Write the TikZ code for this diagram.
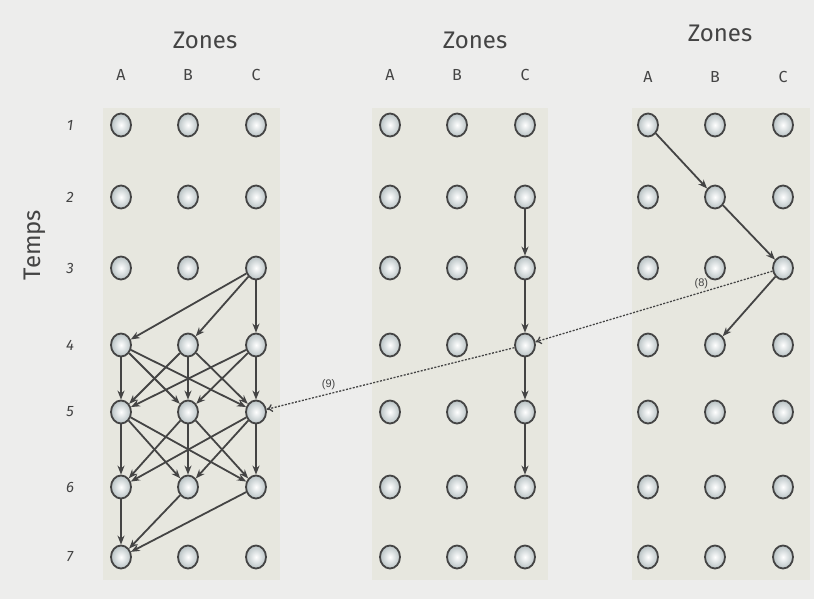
\documentclass[tikz,border=0pt]{standalone}
\usepackage{fontspec}
\setmainfont{Fira Sans}
\newfontfamily\labelfont{Liberation Sans}
\usetikzlibrary{arrows.meta}
\usetikzlibrary{shapes.geometric}
\definecolor{paper}{HTML}{EDEDEC}
\definecolor{band}{HTML}{E7E7DF}
\definecolor{ink}{HTML}{444444}
\definecolor{rim}{HTML}{B8C2C4}

\begin{document}
\begin{tikzpicture}[
    x=1pt, y=-1pt,
    slot/.style={ellipse, draw=ink, line width=1.8pt, minimum width=20pt, minimum height=23pt,
                 inner sep=0pt, inner color=white, outer color=rim},
    flow/.style={-{Stealth[length=9pt, width=7pt]}, line width=1.8pt, ink},
    jump/.style={-{To[length=6pt, width=8pt]}, line width=1.3pt, ink, dash pattern=on 2pt off 1.5pt},
    zonetitle/.style={font=\fontsize{24}{26}\selectfont, text=ink},
    collabel/.style={font=\fontsize{16}{18}\selectfont, text=ink},
    rowlabel/.style={font=\fontsize{15}{17}\selectfont\itshape, text=ink},
    steplabel/.style={font=\labelfont\fontsize{11}{13}\selectfont, text=ink}
]

% page and shaded bands
\fill[paper] (0,0) rectangle (814,599);
\fill[band] (103,108) rectangle (280,580);
\fill[band] (372,108) rectangle (548,580);
\fill[band] (632,108) rectangle (810,580);

% titles
\node[zonetitle] (zones1) at (205,40) {Zones};
\node[zonetitle] (zones2) at (475,40) {Zones};
\node[zonetitle] (zones3) at (720,33) {Zones};
\node[zonetitle, rotate=90] (temps) at (35,245) {Temps};

% column and row labels
\foreach \p/\x/\ly in {1/121/75, 2/390/75, 3/648/77}
  \foreach \c/\dx in {A/0, B/67, C/135}
    \node[collabel] (lab\p\c) at (\x+\dx,\ly) {\c};
\foreach \t/\y in {1/125, 2/197, 3/268, 4/345, 5/412, 6/487, 7/557}
  \node[rowlabel] (row\t) at (70,\y) {\t};

% slots
\foreach \p/\x in {1/121, 2/390, 3/648}
  \foreach \c/\dx in {A/0, B/67, C/135}
    \foreach \t/\y in {1/125, 2/197, 3/268, 4/345, 5/412, 6/487, 7/557}
      \node[slot] (p\p\c\t) at (\x+\dx,\y) {};

% first panel: all moves
\foreach \d in {A,B,C}
  \draw[flow] (p1C3) -- (p1\d4);
\foreach \s in {A,B,C}
  \foreach \d in {A,B,C} {
    \draw[flow] (p1\s4) -- (p1\d5);
    \draw[flow] (p1\s5) -- (p1\d6);
  }
\foreach \s in {A,B,C}
  \draw[flow] (p1\s6) -- (p1A7);

% second panel: stay in C
\draw[flow] (p2C2) -- (p2C3);
\draw[flow] (p2C3) -- (p2C4);
\draw[flow] (p2C4) -- (p2C5);
\draw[flow] (p2C5) -- (p2C6);

% third panel
\draw[flow] (p3A1) -- (p3B2);
\draw[flow] (p3B2) -- (p3C3);
\draw[flow] (p3C3) -- (p3B4);

% links between panels
\draw[jump] (p3C3) -- node[steplabel, above, pos=0.3] {(8)} (p2C4);
\draw[jump] (p2C4) -- node[steplabel, above, pos=0.75] {(9)} (p1C5);

\end{tikzpicture}
\end{document}
